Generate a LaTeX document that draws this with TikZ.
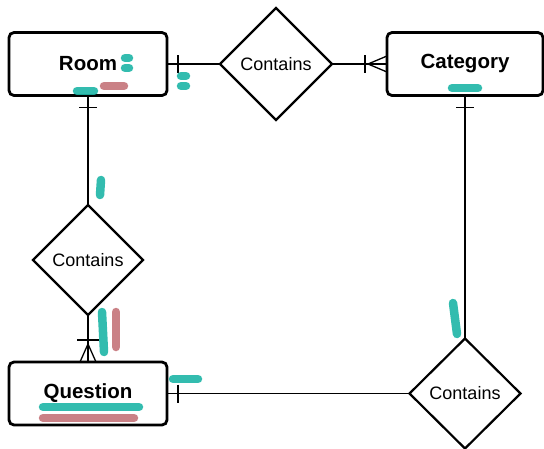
\documentclass[tikz,border=0pt]{standalone}
\usepackage{fontspec}
\setmainfont{Liberation Sans}
\usetikzlibrary{shapes.geometric,calc}
\definecolor{hlteal}{HTML}{1DB5A6}
\definecolor{hlred}{HTML}{C47379}
\tikzset{
  entity/.style={draw, line width=2.8pt, rounded corners=5pt, minimum width=158pt,
    minimum height=63pt, inner sep=0pt, outer sep=0pt, font=\bfseries\fontsize{20.5}{24}\selectfont},
  relation/.style={draw, diamond, line width=2.2pt, inner sep=0pt, outer sep=0pt,
    font=\fontsize{18}{21}\selectfont},
  link/.style={line width=1.3pt},
  tick/.style={line width=1.3pt},
  marker/.style={line width=8.5pt, line cap=round, opacity=0.9},
}
\begin{document}
\begin{tikzpicture}[x=1pt, y=-1pt]
\useasboundingbox (0,0) rectangle (544,448);

% entities
\node[entity] (room) at (88,64) {Room};
\node[entity, minimum width=156pt] (cat) at (465,64) {Category};
\node[entity] (quest) at (88,393.5) {Question};

% relationships
\node[relation, minimum width=112pt, minimum height=112pt] (r1) at (276,64) {Contains};
\node[relation, minimum width=110pt, minimum height=110pt] (r2) at (88,260) {Contains};
\node[relation, minimum width=111pt, minimum height=110pt] (r3) at (465,393.5) {Contains};

% Room -- Contains -- Category
\draw[link] (room.east) -- (r1.west);
\draw[tick] ($(room.east)+(11,-9)$) -- ($(room.east)+(11,9)$);
\draw[link] (r1.east) -- (cat.west);
\draw[tick] ($(cat.west)+(-22,-9)$) -- ($(cat.west)+(-22,9)$);
\draw[tick] ($(cat.west)+(0,-8)$) -- ($(cat.west)+(-19,0)$) -- ($(cat.west)+(0,8)$);

% Room -- Contains -- Question
\draw[link] (room.south) -- (r2.north);
\draw[tick] ($(room.south)+(-9,12)$) -- ($(room.south)+(9,12)$);
\draw[link] (r2.south) -- (quest.north);
\draw[tick] ($(quest.north)+(-11,-22)$) -- ($(quest.north)+(11,-22)$);
\draw[tick] ($(quest.north)+(-8,0)$) -- ($(quest.north)+(0,-18)$) -- ($(quest.north)+(8,0)$);

% Category -- Contains -- Question
\draw[link] (cat.south) -- (r3.north);
\draw[tick] ($(cat.south)+(-9,12)$) -- ($(cat.south)+(9,12)$);
\draw[link] (quest.east) -- (r3.west);
\draw[tick] ($(quest.east)+(11,-9)$) -- ($(quest.east)+(11,9)$);

% highlighter strokes
\draw[marker, hlteal] (125,58) -- (129,58);
\draw[marker, hlteal] (125,68) -- (129,68);
\draw[marker, hlteal] (77,91) -- (94,91);
\draw[marker, hlred] (104,86) -- (124,86);
\draw[marker, hlteal] (181,76) -- (186,76);
\draw[marker, hlteal] (181,86) -- (186,86);
\draw[marker, hlteal] (452,88) -- (478,88);
\draw[marker, hlteal] (101,180) -- (100,195);
\draw[marker, hlred] (116,312) -- (116,347);
\draw[marker, hlteal] (102,312) -- (104,352);
\draw[marker, hlteal] (43,407) -- (139,407);
\draw[marker, hlred] (43,418) -- (134,418);
\draw[marker, hlteal] (173,379) -- (198,379);
\draw[marker, hlteal] (453,303) -- (457,334);
\end{tikzpicture}
\end{document}
